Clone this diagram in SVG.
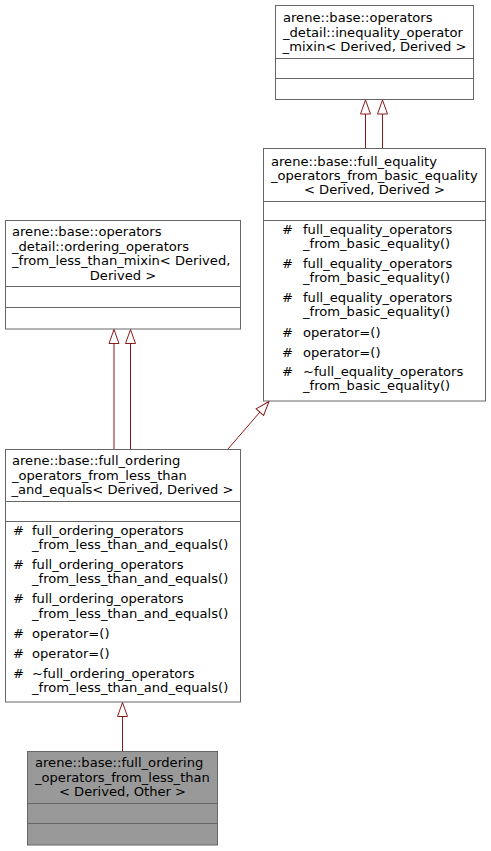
<svg xmlns="http://www.w3.org/2000/svg" width="491" height="851" viewBox="0 0 491 851">
<style>
text{font-family:"DejaVu Sans","Liberation Sans",sans-serif;font-size:13.1px;fill:#000}
.box{fill:#fff;stroke:#666;stroke-width:1}
.gray{fill:#999;stroke:#666;stroke-width:1}
.sep{stroke:#666;stroke-width:1}
.edge{fill:none;stroke:#8b1a1a;stroke-width:1;marker-end:url(#tri)}
.c{text-anchor:middle}
</style>
<defs>
<marker id="tri" viewBox="-1 -6 16 12" refX="14" refY="0" markerWidth="16" markerHeight="12" markerUnits="userSpaceOnUse" orient="auto">
<path d="M0,-5 L14,0 L0,5 Z" fill="#fff" stroke="#8b1a1a" stroke-width="1"/>
</marker>
</defs>
<rect width="491" height="851" fill="#fff"/>
<g id="edges">
<path class="edge" d="M365.5,148 L365.5,100"/>
<path class="edge" d="M382.5,148 L382.5,100"/>
<path class="edge" d="M114,449 L114,329.5"/>
<path class="edge" d="M130.5,449 L130.5,329.5"/>
<path class="edge" d="M228,449 L269,401.5"/>
<path class="edge" d="M122.5,751 L122.5,702.5"/>
</g>
<g id="node_inequality_mixin">
<rect class="box" x="275.5" y="5.5" width="198" height="94"/>
<line class="sep" x1="275.5" y1="58.5" x2="473.5" y2="58.5"/>
<line class="sep" x1="275.5" y1="78.5" x2="473.5" y2="78.5"/>
<text x="283" y="22">arene::base::operators</text>
<text x="283" y="36.5">_detail::inequality_operator</text>
<text x="374.5" y="51" class="c">_mixin&lt; Derived, Derived &gt;</text>
</g>
<g id="node_full_equality">
<rect class="box" x="263.5" y="148.5" width="222" height="252.5"/>
<line class="sep" x1="263.5" y1="201.5" x2="485.5" y2="201.5"/>
<line class="sep" x1="263.5" y1="220.5" x2="485.5" y2="220.5"/>
<text x="271" y="166">arene::base::full_equality</text>
<text x="271" y="180">_operators_from_basic_equality</text>
<text x="374.5" y="194" class="c">&lt; Derived, Derived &gt;</text>
<text x="282" y="234">#</text><text x="303" y="234">full_equality_operators</text>
<text x="303" y="248">_from_basic_equality()</text>
<text x="282" y="268">#</text><text x="303" y="268">full_equality_operators</text>
<text x="303" y="282">_from_basic_equality()</text>
<text x="282" y="302">#</text><text x="303" y="302">full_equality_operators</text>
<text x="303" y="316">_from_basic_equality()</text>
<text x="282" y="337">#</text><text x="303" y="337">operator=()</text>
<text x="282" y="356.5">#</text><text x="303" y="356.5">operator=()</text>
<text x="282" y="376">#</text><text x="303" y="376">~full_equality_operators</text>
<text x="303" y="390">_from_basic_equality()</text>
</g>
<g id="node_ordering_mixin">
<rect class="box" x="5.5" y="220.5" width="235" height="108.5"/>
<line class="sep" x1="5.5" y1="286.5" x2="240.5" y2="286.5"/>
<line class="sep" x1="5.5" y1="307.5" x2="240.5" y2="307.5"/>
<text x="12" y="236">arene::base::operators</text>
<text x="12" y="250.5">_detail::ordering_operators</text>
<text x="12" y="265">_from_less_than_mixin&lt; Derived,</text>
<text x="123" y="279.5" class="c">Derived &gt;</text>
</g>
<g id="node_full_ordering_and_equals">
<rect class="box" x="5.5" y="449.5" width="235" height="252.5"/>
<line class="sep" x1="5.5" y1="501.5" x2="240.5" y2="501.5"/>
<line class="sep" x1="5.5" y1="521.5" x2="240.5" y2="521.5"/>
<text x="12" y="465">arene::base::full_ordering</text>
<text x="12" y="479.5">_operators_from_less_than</text>
<text x="122.5" y="494" class="c">_and_equals&lt; Derived, Derived &gt;</text>
<text x="13" y="535">#</text><text x="32" y="535">full_ordering_operators</text>
<text x="32" y="549">_from_less_than_and_equals()</text>
<text x="13" y="569">#</text><text x="32" y="569">full_ordering_operators</text>
<text x="32" y="583">_from_less_than_and_equals()</text>
<text x="13" y="603">#</text><text x="32" y="603">full_ordering_operators</text>
<text x="32" y="617.5">_from_less_than_and_equals()</text>
<text x="13" y="638">#</text><text x="32" y="638">operator=()</text>
<text x="13" y="658">#</text><text x="32" y="658">operator=()</text>
<text x="13" y="678">#</text><text x="32" y="678">~full_ordering_operators</text>
<text x="32" y="692">_from_less_than_and_equals()</text>
</g>
<g id="node_full_ordering">
<rect class="gray" x="27.5" y="751.5" width="190" height="93.5"/>
<line class="sep" x1="27.5" y1="803.5" x2="217.5" y2="803.5"/>
<line class="sep" x1="27.5" y1="823.5" x2="217.5" y2="823.5"/>
<text x="35" y="767">arene::base::full_ordering</text>
<text x="35" y="782">_operators_from_less_than</text>
<text x="122.5" y="796" class="c">&lt; Derived, Other &gt;</text>
</g>
</svg>
